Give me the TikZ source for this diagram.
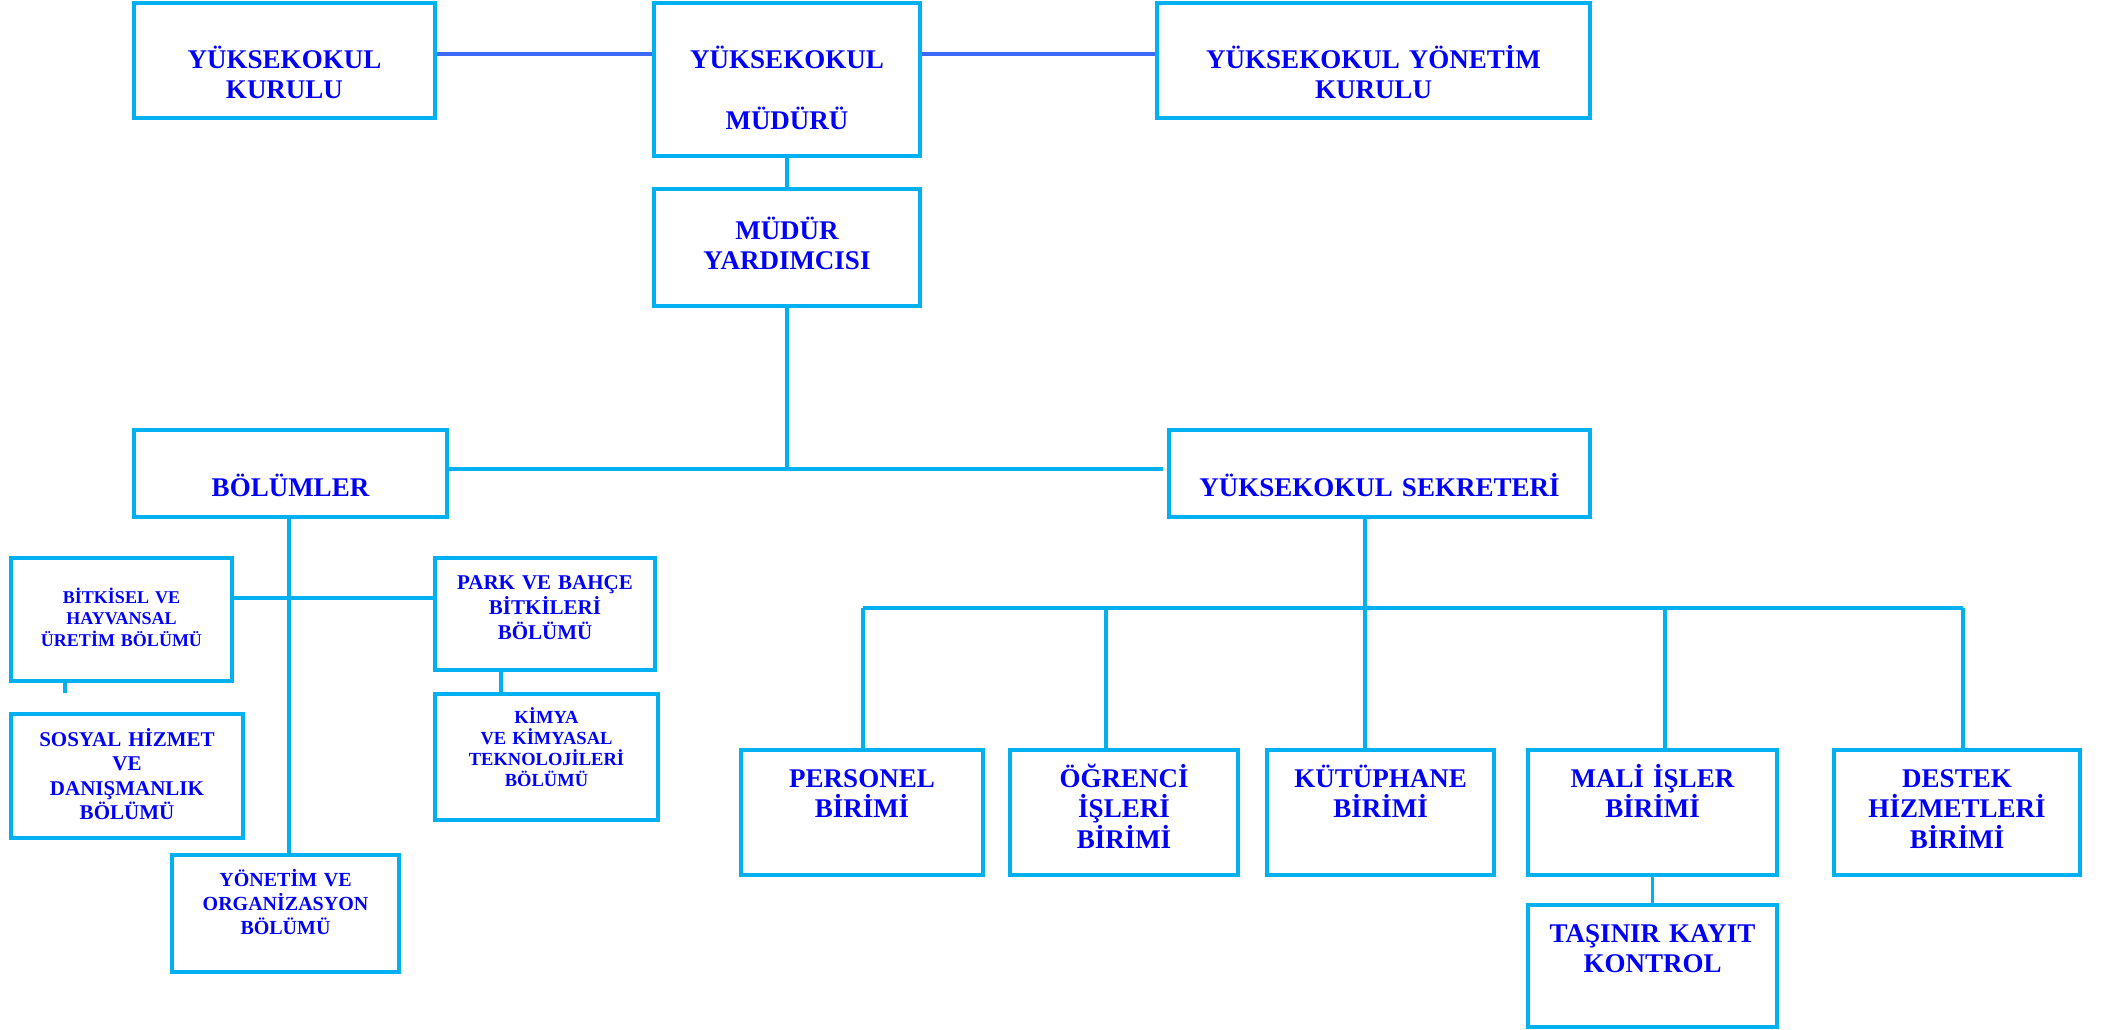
\documentclass[tikz,border=0pt]{standalone}
\usepackage{fontspec}
\setmainfont{Liberation Serif}
\usetikzlibrary{positioning}
\definecolor{boxline}{RGB}{0,176,240}
\definecolor{topline}{RGB}{60,105,250}
\definecolor{boxtext}{RGB}{0,0,250}

\begin{document}
\begin{tikzpicture}[x=1pt,y=-1pt,
  orgbox/.style={draw=boxline,line width=3.5pt,fill=white,inner sep=0pt},
  unitbox/.style={orgbox,minimum height=125pt},
  orgtext/.style={text=boxtext,align=center,text width=440pt,inner sep=0pt},
  fs/.style 2 args={font=\bfseries\fontsize{#1}{#2}\selectfont},
  link/.style={draw=boxline,line width=3.5pt},
  toplink/.style={draw=topline,line width=3.8pt}]
\useasboundingbox (0,0) rectangle (2105,1029);

% top of the chart
\node[orgbox,minimum width=301pt,minimum height=115pt] (kurulu) at (284.5,60.5) {};
\node[orgbox,minimum width=266pt,minimum height=153pt] (mudur) at (787,79.5) {};
\node[orgbox,minimum width=433pt,minimum height=115pt] (ykurul) at (1373.5,60.5) {};
\node[orgbox,minimum width=266pt,minimum height=117pt] (yard) at (787,247.5) {};
\node[orgtext,fs={27}{30.7},below=67pt of kurulu.north,anchor=base] (kurulu-t) {YÜKSEKOKUL\\KURULU};
\node[orgtext,fs={27}{30.7},below=67pt of mudur.north,anchor=base] (mudur-t) {YÜKSEKOKUL\\[31pt]MÜDÜRÜ};
\node[orgtext,fs={27}{30.7},below=67pt of ykurul.north,anchor=base] (ykurul-t) {YÜKSEKOKUL YÖNETİM\\KURULU};
\node[orgtext,fs={27}{30.7},below=52pt of yard.north,anchor=base] (yard-t) {MÜDÜR\\YARDIMCISI};

\node[orgbox,minimum width=313pt,minimum height=87pt] (bolum) at (290.5,473.5) {};
\node[orgbox,minimum width=421pt,minimum height=87pt] (sekr) at (1379.5,473.5) {};
\node[orgtext,fs={27}{30.7},below=68pt of bolum.north,anchor=base] (bolum-t) {BÖLÜMLER};
\node[orgtext,fs={27}{30.7},below=68pt of sekr.north,anchor=base] (sekr-t) {YÜKSEKOKUL SEKRETERİ};

% departments
\node[orgbox,minimum width=221pt,minimum height=123pt] (bitki) at (121.5,619.5) {};
\node[orgbox,minimum width=220pt,minimum height=112pt] (park) at (545,614) {};
\node[orgbox,minimum width=232pt,minimum height=124pt] (sosyal) at (127,776) {};
\node[orgbox,minimum width=223pt,minimum height=126pt] (kimya) at (546.5,757) {};
\node[orgbox,minimum width=227pt,minimum height=117pt] (ynorg) at (285.5,913.5) {};
\node[orgtext,fs={18}{21.5},below=47pt of bitki.north,anchor=base] (bitki-t) {BİTKİSEL VE\\HAYVANSAL\\ÜRETİM BÖLÜMÜ};
\node[orgtext,fs={21}{25},below=33pt of park.north,anchor=base] (park-t) {PARK VE BAHÇE\\BİTKİLERİ\\BÖLÜMÜ};
\node[orgtext,fs={21}{24.5},below=34pt of sosyal.north,anchor=base] (sosyal-t) {SOSYAL HİZMET\\VE\\DANIŞMANLIK\\BÖLÜMÜ};
\node[orgtext,fs={18.5}{21},below=31pt of kimya.north,anchor=base] (kimya-t) {KİMYA\\VE KİMYASAL\\TEKNOLOJİLERİ\\BÖLÜMÜ};
\node[orgtext,fs={20}{24},below=33pt of ynorg.north,anchor=base] (ynorg-t) {YÖNETİM VE\\ORGANİZASYON\\BÖLÜMÜ};

% units
\node[unitbox,minimum width=242pt] (personel) at (862,812.5) {};
\node[unitbox,minimum width=228pt] (ogrenci) at (1124,812.5) {};
\node[unitbox,minimum width=227pt] (kutup) at (1380.5,812.5) {};
\node[unitbox,minimum width=249pt] (mali) at (1652.5,812.5) {};
\node[unitbox,minimum width=246pt] (destek) at (1957,812.5) {};
\node[orgbox,minimum width=249pt,minimum height=122pt] (tasinir) at (1652.5,966) {};
\node[orgtext,fs={27}{30.7},below=39pt of personel.north,anchor=base] (personel-t) {PERSONEL\\BİRİMİ};
\node[orgtext,fs={27}{30.7},below=39pt of ogrenci.north,anchor=base] (ogrenci-t) {ÖĞRENCİ\\İŞLERİ\\BİRİMİ};
\node[orgtext,fs={27}{30.7},below=39pt of kutup.north,anchor=base] (kutup-t) {KÜTÜPHANE\\BİRİMİ};
\node[orgtext,fs={27}{30.7},below=39pt of mali.north,anchor=base] (mali-t) {MALİ İŞLER\\BİRİMİ};
\node[orgtext,fs={27}{30.7},below=39pt of destek.north,anchor=base] (destek-t) {DESTEK\\HİZMETLERİ\\BİRİMİ};
\node[orgtext,fs={27}{30.7},below=39pt of tasinir.north,anchor=base] (tasinir-t) {TAŞINIR KAYIT\\KONTROL};

% connectors
\coordinate (tl) at (0,54);
\draw[toplink] (kurulu.east |- tl) -- (mudur.west |- tl);
\draw[toplink] (mudur.east |- tl) -- (ykurul.west |- tl);
\draw[link] (mudur) -- (yard);
\coordinate (cross) at (787,469);
\coordinate (sekr-gap) at (1163,469);
\draw[link] (yard.south) -- (cross);
\draw[link] (bolum.east |- cross) -- (sekr-gap);

\coordinate (bv) at (289,0);
\coordinate (hy) at (0,598);
\coordinate (stub) at (65,693);
\coordinate (pk) at (501,0);
\draw[link] (bv |- bolum.south) -- (bv |- ynorg.north);
\draw[link] (bitki.east |- hy) -- (park.west |- hy);
\draw[link] (stub |- bitki.south) -- (stub);
\draw[link] (pk |- park.south) -- (pk |- kimya.north);

\coordinate (sk) at (1365,608);
\coordinate (busl) at (863,608);
\coordinate (busr) at (1963,608);
\draw[link] (sk |- sekr.south) -- (sk);
\draw[link] (busl) -- (busr);
\foreach \x/\b in {863/personel,1106/ogrenci,1365/kutup,1665/mali,1963/destek}{
  \coordinate (d-\b) at (\x,608);
  \draw[link] (d-\b) -- (d-\b |- \b.north);
}
\draw[link] (mali) -- (tasinir);
\end{tikzpicture}
\end{document}
